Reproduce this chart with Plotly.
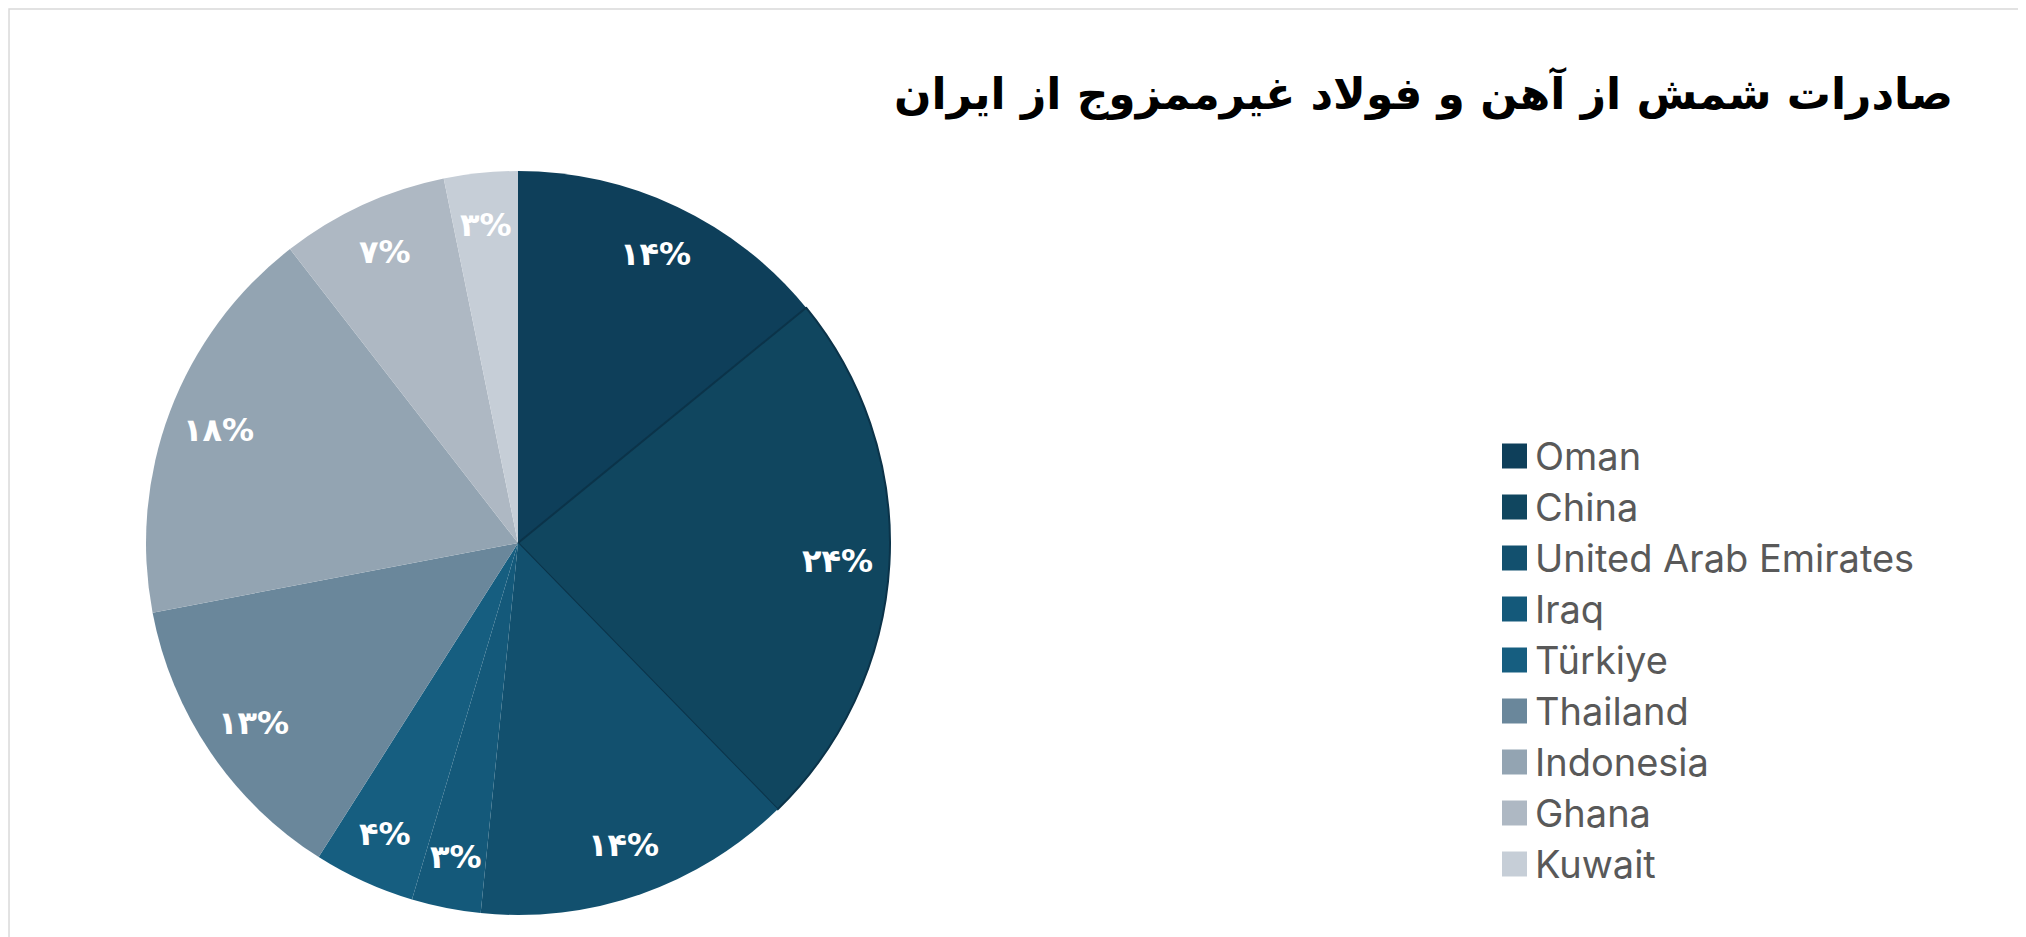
import math
import plotly.graph_objects as go

title_text = "صادرات شمش از آهن و فولاد غیرممزوج از ایران"
countries = ["Oman", "China", "United Arab Emirates", "Iraq", "Türkiye",
             "Thailand", "Indonesia", "Ghana", "Kuwait"]
shares = [14.1, 23.6, 13.9, 3.0, 4.4, 13.0, 17.5, 7.3, 3.2]
colors = ["#0e3f5a", "#10465f", "#12506e", "#14597a", "#165e80",
          "#6a879b", "#93a4b2", "#aeb8c3", "#c6ced7"]

persian_digits = str.maketrans("0123456789", "۰۱۲۳۴۵۶۷۸۹")
total = sum(shares)
labels_txt = [f"{round(v / total * 100)}".translate(persian_digits) + "%" for v in shares]

W, H = 2026, 937
cx, cy, r = 510, 535, 372

fig = go.Figure()
fig.add_trace(go.Pie(
    labels=countries,
    values=shares,
    textinfo="none",
    sort=False,
    direction="clockwise",
    rotation=0,
    showlegend=False,
    marker=dict(colors=colors,
                line=dict(color=["rgba(0,0,0,0)", "#0b3349"] + ["rgba(0,0,0,0)"] * 7,
                          width=[0, 2, 0, 0, 0, 0, 0, 0, 0])),
    domain=dict(x=[(cx - r) / W, (cx + r) / W], y=[(H - cy - r) / H, (H - cy + r) / H]),
    hoverinfo="label+percent",
))

annotations = [dict(
    text="<b>" + title_text + "</b>",
    x=1947 / W, y=(H - 56) / H, xref="paper", yref="paper",
    xanchor="right", yanchor="top", showarrow=False,
    font=dict(family="DejaVu Sans", size=44, color="black"),
)]

# slice labels placed along each slice's mid-angle
cum = 0.0
for v, t in zip(shares, labels_txt):
    mid = (cum + v / 2) / total
    cum += v
    ang = 2 * math.pi * mid
    rr = 0.86 * r
    px = cx + rr * math.sin(ang)
    py = cy - rr * math.cos(ang)
    annotations.append(dict(
        text="<b>" + t + "</b>", x=px / W, y=(H - py) / H, xref="paper", yref="paper",
        xanchor="center", yanchor="middle", showarrow=False,
        font=dict(family="DejaVu Sans", size=32, color="white"),
    ))

# legend (manual, large squares)
shapes = [dict(type="rect", xref="paper", yref="paper", x0=0.0005, y0=0.001, x1=0.9995, y1=0.999,
               line=dict(color="#d9d9d9", width=1.5))]
leg_x0, leg_y0, leg_dy, sq = 1494, 448.0, 51, 25
for i, (name, col) in enumerate(zip(countries, colors)):
    yc = leg_y0 + i * leg_dy
    shapes.append(dict(type="rect", xref="paper", yref="paper",
                       x0=leg_x0 / W, x1=(leg_x0 + sq) / W,
                       y0=(H - yc - sq / 2) / H, y1=(H - yc + sq / 2) / H,
                       fillcolor=col, line=dict(color=col, width=0)))
    annotations.append(dict(
        text=name, x=(leg_x0 + sq + 6) / W, y=(H - yc) / H, xref="paper", yref="paper",
        xanchor="left", yanchor="middle", showarrow=False,
        font=dict(family="Inter", size=38, color="#595959"),
    ))

fig.update_layout(
    width=W, height=H,
    margin=dict(l=0, r=0, t=0, b=0),
    paper_bgcolor="white",
    plot_bgcolor="white",
    showlegend=False,
    annotations=annotations,
    shapes=shapes,
)

fig.write_html("out.html")
